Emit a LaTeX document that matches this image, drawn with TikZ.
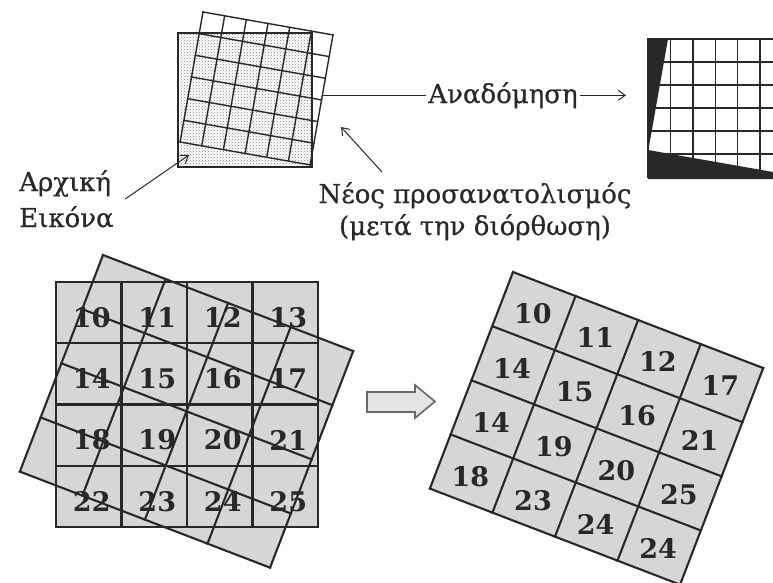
\documentclass[tikz,border=0pt]{standalone}
\usepackage{fontspec}
\setmainfont{DejaVu Serif}
\newfontfamily\labelfont[FakeBold=0.6]{DejaVu Serif}
\usetikzlibrary{arrows.meta,patterns,calc}
\definecolor{ink}{RGB}{40,40,40}
\definecolor{cellgray}{RGB}{214,214,214}
\definecolor{arrowfill}{RGB}{228,228,228}
\tikzset{
  lbl/.style={font=\labelfont\fontsize{26}{30}\selectfont, text=ink, inner sep=2pt},
  num/.style={font=\bfseries\fontsize{27}{27}\selectfont, text=ink, inner sep=0pt},
  thinline/.style={draw=ink, line width=1.4pt, line cap=rect},
  gridline/.style={draw=ink, line width=2.1pt, line cap=rect},
  pointer/.style={draw=ink, line width=1pt, -{Straight Barb[length=7pt,width=10pt]}},
}
\begin{document}
\begin{tikzpicture}[x=1pt,y=-1pt]
\useasboundingbox (0,0) rectangle (773,582);

% ---------- original image (stippled) with the rotated grid ----------
\path[pattern=crosshatch dots, pattern color=gray] (178,33) rectangle (312,167);
\draw[thinline] (178,33) rectangle (312,167);
\begin{scope}[shift={(203,12)}, rotate=-10]
  \foreach \k in {0,...,6} {
    \draw[thinline] (22*\k,0) -- (22*\k,132);
    \draw[thinline] (0,22*\k) -- (132,22*\k);
  }
  \coordinate (tlEdge) at (132,65);
\end{scope}

% ---------- reconstructed image ----------
\begin{scope}
  \clip (640,30) rectangle (773,185);
  \foreach \k in {0,...,6} {
    \draw[thinline] ({648+22.4*\k},39) -- ({648+22.4*\k},177);
    \draw[thinline] (648,{39+23*\k}) -- (790,{39+23*\k});
  }
  \draw[ink, line width=2pt] (648,39) -- (790,39);
  \fill[ink] (648,39) -- (668,39) -- (648,152) -- cycle;
  \fill[ink] (648,150) -- (790,175) -- (790,179) -- (648,179) -- cycle;
  \coordinate (trWest) at (626,100);
\end{scope}

% ---------- labels of the upper part ----------
\node[lbl, anchor=base] (recon) at (503,103) {Αναδόμηση};
\draw[ink, line width=1pt] (recon.west) -- (recon.west -| tlEdge);
\draw[pointer] (recon.east) -- (recon.east -| trWest);

\node[lbl, anchor=base west] (orig1) at (17,191) {Αρχική};
\node[lbl, anchor=base west] (orig2) at (17,227) {Εικόνα};
\coordinate (origTip) at (189,155);
\draw[pointer] ([xshift=12pt]orig1.south east) -- (origTip);

\node[lbl, anchor=base] (neo1) at (475,203) {Νέος προσανατολισμός};
\node[lbl, anchor=base] (neo2) at (475,235) {(μετά την διόρθωση)};
\coordinate (neoTip) at (341,127);
\coordinate (neoTail) at (382,172);
\draw[pointer] (neoTail) -- (neoTip);

% ---------- lower left: fixed grid with rotated grid over it ----------
\fill[cellgray] (56,282) rectangle (318,527);
\begin{scope}[shift={(103,255)}, rotate=-21]
  \fill[cellgray] (0,0) rectangle (268,232);
\end{scope}
\foreach \k in {0,...,4} {
  \draw[gridline] ({56+65.5*\k},282) -- ({56+65.5*\k},527);
  \draw[gridline] (56,{282+61.25*\k}) -- (318,{282+61.25*\k});
}
\foreach \j in {0,...,3} {
  \foreach \i in {0,...,3} {
    \pgfmathtruncatemacro{\val}{10+4*\j+\i}
    \node[num] (L\val) at ({56+65.5*\i+32.75+3},{282+61.25*\j+30.6+5}) {\val};
  }
}
\begin{scope}[shift={(103,255)}, rotate=-21]
  \foreach \k in {0,...,4} {
    \draw[gridline] (67*\k,0) -- (67*\k,232);
    \draw[gridline] (0,58*\k) -- (268,58*\k);
  }
\end{scope}

% ---------- block arrow ----------
\draw[draw=ink!70, fill=arrowfill, line width=1.6pt, line join=miter]
  (367,392) -- (415,392) -- (415,385) -- (435,401.5) -- (415,418) -- (415,412) -- (367,412) -- cycle;

% ---------- lower right: resampled grid ----------
\begin{scope}[shift={(513,272)}, rotate=-21]
  \fill[cellgray] (0,0) rectangle (268,232);
  \foreach \k in {0,...,4} {
    \draw[gridline] (67*\k,0) -- (67*\k,232);
    \draw[gridline] (0,58*\k) -- (268,58*\k);
  }
  \foreach \n [count=\c from 0] in {10,11,12,17,14,15,16,21,14,19,20,25,18,23,24,24} {
    \pgfmathtruncatemacro{\ci}{mod(\c,4)}
    \pgfmathtruncatemacro{\cj}{int(\c/4)}
    \node[num] (R\c) at ({67*\ci+33.5},{58*\cj+32}) {\n};
  }
\end{scope}
\end{tikzpicture}
\end{document}
